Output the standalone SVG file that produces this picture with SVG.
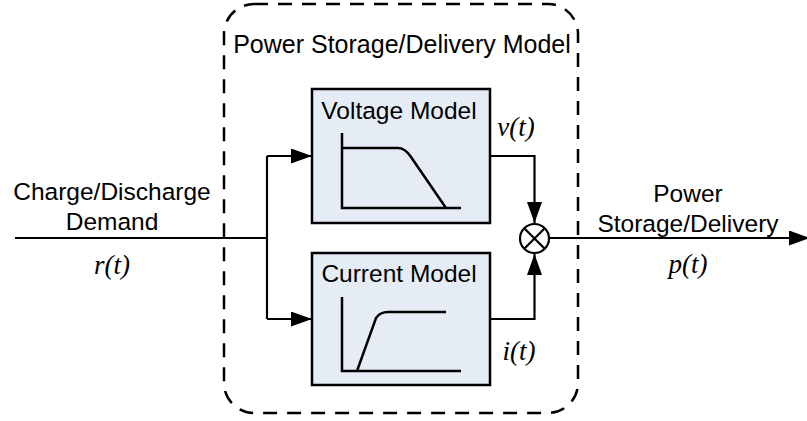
<svg xmlns="http://www.w3.org/2000/svg" width="807" height="421" viewBox="0 0 807 421">
<style>
.t{font-family:"Liberation Sans",Arial,sans-serif;font-size:24.5px;fill:#000}
.m{font-family:"Liberation Serif","Times New Roman",serif;font-style:italic;font-size:27px;fill:#000}
.box{fill:#e6ecf6;stroke:#000;stroke-width:2.5}
.ln{fill:none;stroke:#000;stroke-width:2.2}
.g{fill:none;stroke:#000;stroke-width:2.5}
</style>
<defs>
<marker id="ah" viewBox="0 0 21 15" refX="21" refY="7.5" markerWidth="21" markerHeight="15" markerUnits="userSpaceOnUse" orient="auto">
<path d="M0,0 L21,7.5 L0,15 Z" fill="#000"/>
</marker>
</defs>
<g id="outer">
<rect x="224" y="4" width="354" height="409" rx="30" ry="30" fill="none" stroke="#000" stroke-width="2.5" stroke-dasharray="14,10"/>
<text class="t" x="402" y="53" text-anchor="middle" style="font-size:25px">Power Storage/Delivery Model</text>
</g>
<g id="voltage">
<rect class="box" x="312" y="89" width="178" height="134"/>
<text class="t" x="399" y="119" text-anchor="middle">Voltage Model</text>
<path class="g" d="M342,133 V208 H461 M342,148 H398 Q405,148 411,157 L446,208"/>
</g>
<g id="current">
<rect class="box" x="312" y="253" width="178" height="132"/>
<text class="t" x="399" y="282" text-anchor="middle">Current Model</text>
<path class="g" d="M342,297 V371 H461 M357,371 L376,318 Q380,312 388,312 H446"/>
</g>
<g id="mult">
<circle cx="534.5" cy="238.5" r="14.5" fill="#fff" stroke="#000" stroke-width="2.2"/>
<path class="ln" d="M524.5,228.5 L544.5,248.5 M544.5,228.5 L524.5,248.5"/>
</g>
<g id="labels">
<text class="t" x="112" y="200" text-anchor="middle">Charge/Discharge</text>
<text class="t" x="112" y="230" text-anchor="middle">Demand</text>
<text class="m" x="112" y="274" text-anchor="middle">r(t)</text>
<text class="t" x="688" y="202" text-anchor="middle">Power</text>
<text class="t" x="688" y="232" text-anchor="middle">Storage/Delivery</text>
<text class="m" x="688" y="273" text-anchor="middle">p(t)</text>
<text class="m" x="516" y="136" text-anchor="middle">v(t)</text>
<text class="m" x="519" y="360" text-anchor="middle">i(t)</text>
</g>
<g id="connectors">
<path class="ln" d="M15,238 H267"/>
<path class="ln" d="M267,156 V319"/>
<path class="ln" d="M267,156 H312" marker-end="url(#ah)"/>
<path class="ln" d="M267,319 H312" marker-end="url(#ah)"/>
<path class="ln" d="M490,156 H534.5 V223" marker-end="url(#ah)"/>
<path class="ln" d="M490,319 H534.5 V254" marker-end="url(#ah)"/>
<path class="ln" d="M549,238 H810" marker-end="url(#ah)"/>
</g>
</svg>
